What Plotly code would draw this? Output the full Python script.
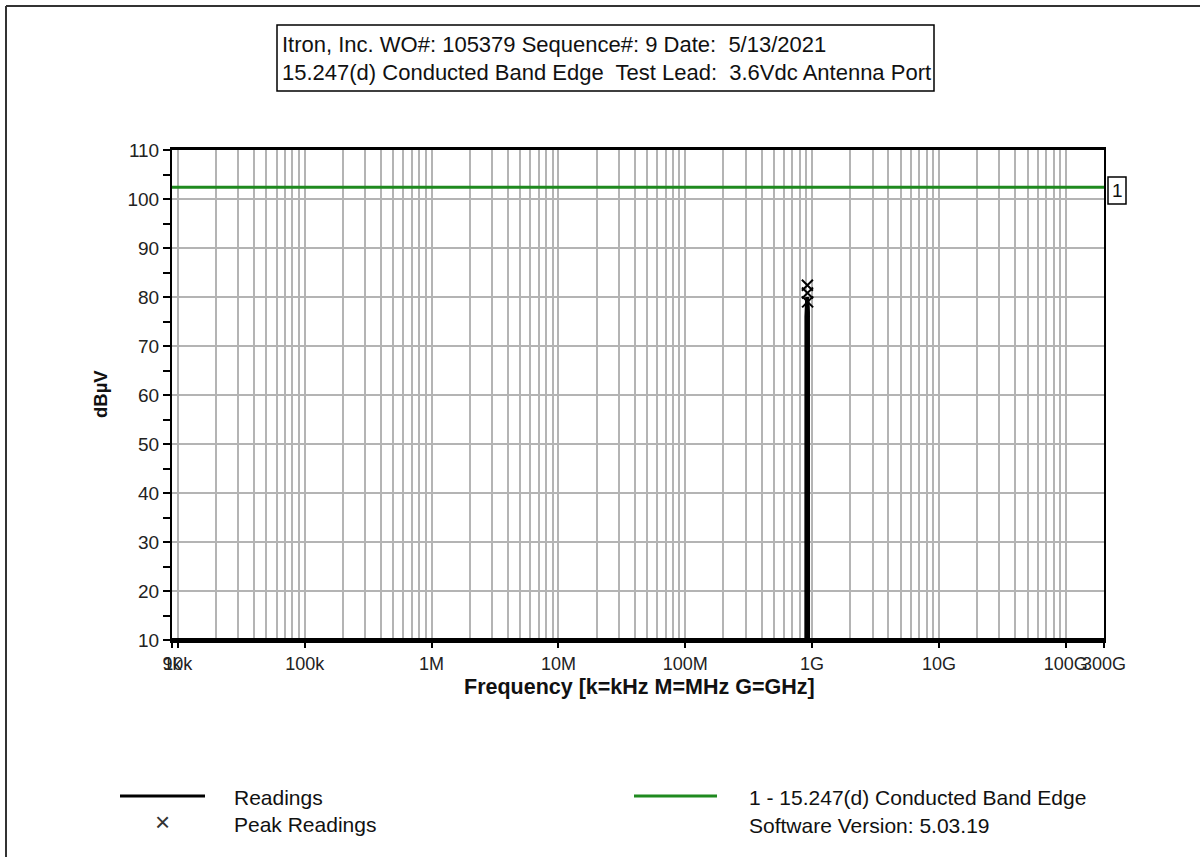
import numpy as np
import plotly.graph_objects as go

# ---------------- data ----------------
read_freq_hz = [9e3, 9.0e8, 9.01e8, 9.02e8, 9.05e8, 9.10e8, 9.15e8, 9.20e8, 9.25e8, 9.28e8, 9.29e8, 2.0e11]
read_dbuv = [10, 10, 10, 76, 77, 78, 80, 79, 78, 77, 10, 10]

peak_freq_hz = [9.18e8, 9.20e8, 9.22e8]
peak_dbuv = [82.4, 80.8, 79.0]

limit_freq_hz = [9e3, 2.0e11]
limit_dbuv = [102.4, 102.4]

x_tick_vals = [9e3, 1e4, 1e5, 1e6, 1e7, 1e8, 1e9, 1e10, 1e11, 2e11]
x_tick_text = ["9k", "10k", "100k", "1M", "10M", "100M", "1G", "10G", "100G", "300G"]

title_lines = ["Itron, Inc. WO#: 105379 Sequence#: 9 Date:  5/13/2021",
               "15.247(d) Conducted Band Edge  Test Lead:  3.6Vdc Antenna Port"]

# ---------------- layout geometry ----------------
W, H = 1200, 857
L, R, T, B = 172, 96, 150, 217
PW, PH = W - L - R, H - T - B
FONT = "Liberation Sans, Arial, sans-serif"
GREEN = "#1f8a1f"


def px(x):
    return (x - L) / PW


def py(y):
    return 1 - (y - T) / PH


# minor grid values 2..9 per decade
minor_vals = []
for d in range(4, 12):
    for m in range(1, 10):
        v = m * 10 ** d
        if 9e3 <= v <= 2e11:
            minor_vals.append(v)

fig = go.Figure()

fig.add_trace(go.Scatter(x=limit_freq_hz, y=limit_dbuv, mode="lines",
                         line=dict(color=GREEN, width=3), name="1 - 15.247(d) Conducted Band Edge",
                         showlegend=False))
fig.add_trace(go.Scatter(x=read_freq_hz, y=read_dbuv, mode="lines",
                         line=dict(color="black", width=4), name="Readings", showlegend=False))
fig.add_trace(go.Scatter(x=peak_freq_hz, y=peak_dbuv, mode="markers",
                         marker=dict(symbol="x-thin", size=11, line=dict(color="black", width=2)),
                         name="Peak Readings", showlegend=False, cliponaxis=False))

fig.update_xaxes(type="log", range=[np.log10(9e3), np.log10(2e11)],
                 tickmode="array", tickvals=x_tick_vals, ticktext=x_tick_text, tickangle=0,
                 showgrid=False, zeroline=False,
                 ticks="outside", ticklen=5, tickwidth=2, tickcolor="black",
                 showline=True, linecolor="black", linewidth=3, mirror=True,
                 tickfont=dict(family=FONT, size=18, color="#222"),
                 minor=dict(tickmode="array", tickvals=minor_vals, showgrid=True,
                            gridcolor="#b4b4b4", gridwidth=1.5, ticks=""))
fig.update_yaxes(range=[10, 110], tickmode="linear", tick0=10, dtick=10,
                 showgrid=True, gridcolor="#b4b4b4", gridwidth=1.5, zeroline=False,
                 ticks="outside", ticklen=7, tickwidth=2, tickcolor="black",
                 showline=True, linecolor="black", linewidth=2, mirror=True,
                 tickfont=dict(family=FONT, size=19, color="#222"),
                 minor=dict(dtick=5, tick0=10, ticks="outside", ticklen=7, tickwidth=2,
                            tickcolor="black", showgrid=False))

shapes = []
annotations = []

# page border (left and top)
shapes.append(dict(type="line", xref="paper", yref="paper", x0=px(6), x1=px(6), y0=py(6), y1=py(857),
                   line=dict(color="#333", width=2)))
shapes.append(dict(type="line", xref="paper", yref="paper", x0=px(6), x1=px(1200), y0=py(6), y1=py(6),
                   line=dict(color="#333", width=2)))

# title box
shapes.append(dict(type="rect", xref="paper", yref="paper", x0=px(277), x1=px(934), y0=py(25), y1=py(91),
                   line=dict(color="black", width=1.5), fillcolor="white"))
annotations.append(dict(xref="paper", yref="paper", x=px(280), y=py(44), text=title_lines[0],
                        showarrow=False, xanchor="left", yanchor="middle",
                        font=dict(family=FONT, size=22, color="#111")))
annotations.append(dict(xref="paper", yref="paper", x=px(280), y=py(72), text=title_lines[1],
                        showarrow=False, xanchor="left", yanchor="middle",
                        font=dict(family=FONT, size=22, color="#111")))

# limit label box "1"
shapes.append(dict(type="rect", xref="paper", yref="paper", x0=px(1108), x1=px(1126), y0=py(177), y1=py(204),
                   line=dict(color="black", width=1.5), fillcolor="white"))
annotations.append(dict(xref="paper", yref="paper", x=px(1117), y=py(190.5), text="1",
                        showarrow=False, xanchor="center", yanchor="middle",
                        font=dict(family=FONT, size=19, color="#111")))

# axis titles
annotations.append(dict(xref="paper", yref="paper", x=px(100), y=py(394), text="<b>dBµV</b>",
                        showarrow=False, textangle=-90, xanchor="center", yanchor="middle",
                        font=dict(family=FONT, size=18.5, color="#111")))
annotations.append(dict(xref="paper", yref="paper", x=px(639), y=py(687),
                        text="<b>Frequency [k=kHz M=MHz G=GHz]</b>",
                        showarrow=False, xanchor="center", yanchor="middle",
                        font=dict(family=FONT, size=21.5, color="#111")))

# custom legend
shapes.append(dict(type="line", xref="paper", yref="paper", x0=px(120), x1=px(205), y0=py(796), y1=py(796),
                   line=dict(color="black", width=3)))
shapes.append(dict(type="line", xref="paper", yref="paper", x0=px(634), x1=px(717), y0=py(796), y1=py(796),
                   line=dict(color=GREEN, width=3)))
annotations.append(dict(xref="paper", yref="paper", x=px(162), y=py(822), text="×",
                        showarrow=False, xanchor="center", yanchor="middle",
                        font=dict(family=FONT, size=26, color="#333")))
for (x, y, t) in [(232, 797, "Readings"), (232, 824, "Peak Readings"),
                  (747, 797, "1 - 15.247(d) Conducted Band Edge"),
                  (747, 825, "Software Version: 5.03.19")]:
    annotations.append(dict(xref="paper", yref="paper", x=px(x), y=py(y), text=t,
                            showarrow=False, xanchor="left", yanchor="middle",
                            font=dict(family=FONT, size=21, color="#111")))

fig.update_layout(width=W, height=H, margin=dict(l=L, r=R, t=T, b=B),
                  paper_bgcolor="white", plot_bgcolor="white",
                  shapes=shapes, annotations=annotations, showlegend=False)

fig.write_html("out.html")
